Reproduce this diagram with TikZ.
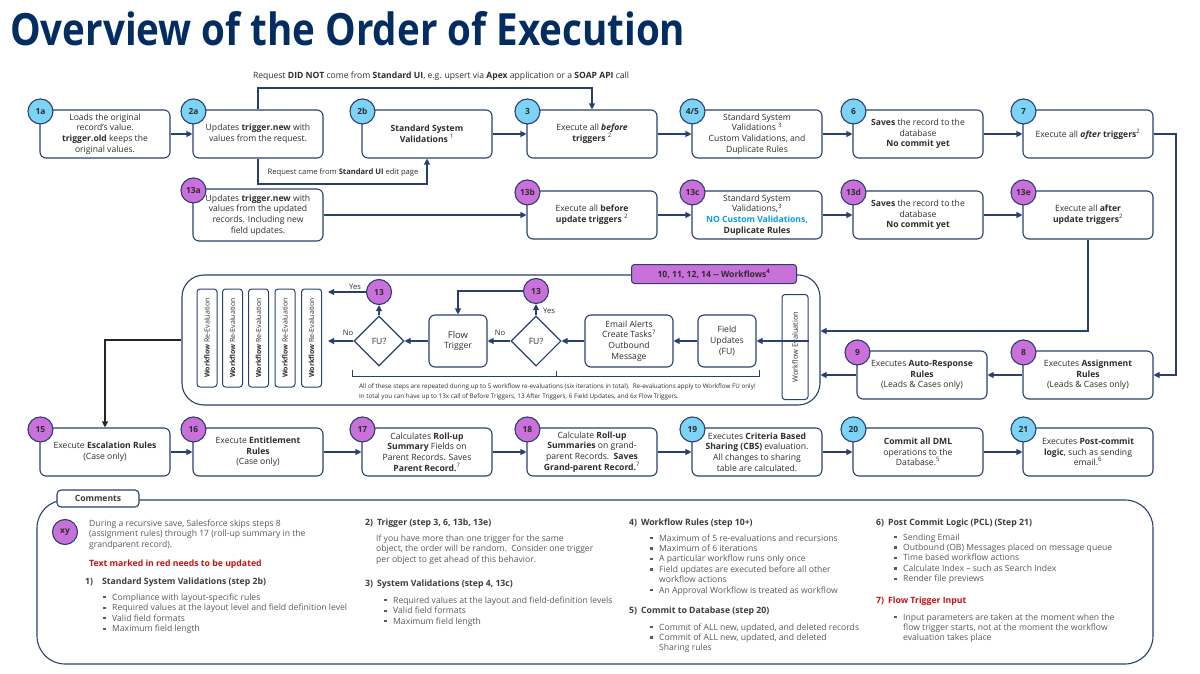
\documentclass[tikz,border=0pt]{standalone}
\usepackage{fontspec}
\setmainfont{Open Sans}
\usepackage{graphicx}
\usetikzlibrary{arrows.meta,shapes.geometric,positioning}

\definecolor{sfnavy}{RGB}{3,45,96}
\definecolor{lineblue}{RGB}{40,64,110}
\definecolor{stepblue}{RGB}{125,211,245}
\definecolor{stepviolet}{RGB}{202,112,218}
\definecolor{textdark}{RGB}{45,45,45}
\definecolor{commentgray}{RGB}{88,88,88}
\definecolor{headgray}{RGB}{60,60,60}
\definecolor{novalid}{RGB}{12,155,225}
\definecolor{todored}{RGB}{196,20,20}

\newcommand{\sqb}{\makebox[9pt][l]{\rule[1.6pt]{2.4pt}{2.4pt}}}

\begin{document}
\begin{tikzpicture}[x=1pt,y=-1pt,
    stepbox/.style={draw=lineblue, line width=1.1pt, rounded corners=6pt, fill=white,
      minimum width=130pt, minimum height=48pt, align=center, text=textdark,
      font=\fontsize{8.6}{10.6}\selectfont, inner sep=1pt},
    smallbox/.style={stepbox, minimum width=58pt, minimum height=52pt},
    bluenum/.style={circle, draw=lineblue, line width=1.1pt, fill=stepblue,
      minimum size=25pt, inner sep=0pt, text=textdark, font=\bfseries\fontsize{8.4}{8}\selectfont},
    violetnum/.style={bluenum, fill=stepviolet},
    fudiamond/.style={diamond, draw=lineblue, line width=1.1pt, fill=white, minimum width=50pt,
      minimum height=50pt, inner sep=0pt, text=textdark, font=\fontsize{8.6}{8}\selectfont},
    reevalbox/.style={draw=lineblue, line width=1pt, rounded corners=3pt, fill=white, rotate=90,
      minimum width=98pt, minimum height=20pt, inner sep=0pt, text=textdark,
      font=\fontsize{7}{7}\selectfont},
    flow/.style={draw=lineblue, line width=1.1pt, -{Triangle[length=6pt,width=6pt]}},
    flowdark/.style={flow, draw=black!85},
    lbl/.style={inner sep=0pt, text=textdark, font=\fontsize{7.6}{8}\selectfont},
    ctext/.style={anchor=base west, inner sep=0pt, text=commentgray, font=\fontsize{8.6}{9}\selectfont},
    chead/.style={ctext, text=headgray, font=\bfseries\fontsize{8.7}{9}\selectfont}]
  \newcommand{\rowa}{134}
  \newcommand{\rowb}{215}
  \newcommand{\rowc}{375}
  \newcommand{\rowd}{452}

  \useasboundingbox (0,0) rectangle (1200,674);

  % Title
  \node[anchor=base west, inner sep=0pt, text=sfnavy] (title) at (10,46)
    {\resizebox{675pt}{34pt}{\bfseries Overview of the Order of Execution}};

  % First save
  \node[stepbox] (b1a) at (105,\rowa) {Loads the original\\record’s value.\\\textbf{trigger.old} keeps the\\original values.};
  \node[stepbox] (b2a) at (258,\rowa) {Updates \textbf{trigger.new} with\\values from the request.};
  \node[stepbox] (b2b) at (427,\rowa) {\textbf{Standard System}\\\textbf{Validations} \textsuperscript{1}};
  \node[stepbox] (b3) at (592,\rowa) {Execute all \textbf{\textit{before}}\\\textbf{triggers} \textsuperscript{2}};
  \node[stepbox] (b45) at (757,\rowa) {Standard System\\Validations \textsuperscript{3}\\Custom Validations, and\\Duplicate Rules};
  \node[stepbox] (b6) at (918,\rowa) {\textbf{Saves} the record to the\\database\\\textbf{No commit yet}};
  \node[stepbox] (b7) at (1088,\rowa) {Execute all \textbf{\textit{after}} \textbf{triggers}\textsuperscript{2}};

  \node[bluenum] (n1a) at ([xshift=1pt,yshift=-2pt]b1a.north west) {1a};
  \node[bluenum] (n2a) at ([xshift=1pt,yshift=-2pt]b2a.north west) {2a};
  \node[bluenum] (n2b) at ([xshift=1pt,yshift=-2pt]b2b.north west) {2b};
  \node[bluenum] (n3) at ([xshift=1pt,yshift=-2pt]b3.north west) {3};
  \node[bluenum] (n45) at ([xshift=1pt,yshift=-2pt]b45.north west) {4/5};
  \node[bluenum] (n6) at ([xshift=1pt,yshift=-2pt]b6.north west) {6};
  \node[bluenum] (n7) at ([xshift=1pt,yshift=-2pt]b7.north west) {7};

  \draw[flow] (b1a) -- (b2a);
  \draw[flow] (b2b) -- (b3);
  \draw[flow] (b3) -- (b45);
  \draw[flow] (b45) -- (b6);
  \draw[flow] (b6) -- (b7);

  % Request paths
  \coordinate (dnt) at (258,88);
  \coordinate (std) at (258,184);
  \draw[flow] (b2a.north) -- (dnt) -| (b3.north);
  \draw[flow] (b2a.south) -- (std) -| (b2b.south);
  \node[lbl, font=\fontsize{8.6}{9}\selectfont] (lbldnt) at (441,76)
    {Request \textbf{DID NOT} come from \textbf{Standard UI}, e.g. upsert via \textbf{Apex} application or a \textbf{SOAP API} call};
  \node[lbl] (lblstd) at (343,173) {Request came from \textbf{Standard UI} edit page};

  % Recursive save
  \node[stepbox, minimum height=52pt] (b13a) at (258,\rowb) {Updates \textbf{trigger.new} with\\values from the updated\\records. Including new\\field updates.};
  \node[stepbox] (b13b) at (592,\rowb) {Execute all \textbf{before}\\\textbf{update triggers} \textsuperscript{2}};
  \node[stepbox] (b13c) at (757,\rowb) {Standard System\\Validations,\textsuperscript{3}\\\textcolor{novalid}{\textbf{NO Custom Validations,}}\\\textbf{Duplicate Rules}};
  \node[stepbox] (b13d) at (918,\rowb) {\textbf{Saves} the record to the\\database\\\textbf{No commit yet}};
  \node[stepbox] (b13e) at (1088,\rowb) {Execute all \textbf{after}\\\textbf{update triggers}\textsuperscript{2}};

  \node[violetnum] (n13a) at ([xshift=1pt,yshift=-2pt]b13a.north west) {13a};
  \node[violetnum] (n13b) at ([xshift=1pt,yshift=-2pt]b13b.north west) {13b};
  \node[violetnum] (n13c) at ([xshift=1pt,yshift=-2pt]b13c.north west) {13c};
  \node[violetnum] (n13d) at ([xshift=1pt,yshift=-2pt]b13d.north west) {13d};
  \node[violetnum] (n13e) at ([xshift=1pt,yshift=-2pt]b13e.north west) {13e};

  \draw[flow] (b13a) -- (b13b);
  \draw[flow] (b13b) -- (b13c);
  \draw[flow] (b13c) -- (b13d);
  \draw[flow] (b13d) -- (b13e);

  % Assignment and auto-response
  \node[stepbox] (b8) at (1088,\rowc) {Executes \textbf{Assignment}\\\textbf{Rules}\\(Leads \& Cases only)};
  \node[stepbox] (b9) at (922,\rowc) {Executes \textbf{Auto-Response}\\\textbf{Rules}\\(Leads \& Cases only)};
  \node[violetnum] (n8) at ([xshift=1pt,yshift=-2pt]b8.north west) {8};
  \node[violetnum] (n9) at ([xshift=1pt,yshift=-2pt]b9.north west) {9};

  % Workflow frame
  \node[draw=lineblue, line width=1.1pt, rounded corners=22pt, minimum width=638pt,
    minimum height=130pt] (wf) at (501,340) {};
  \node[draw=lineblue, line width=1pt, rounded corners=3pt, fill=stepviolet, minimum width=165pt,
    minimum height=19pt, inner sep=0pt, text=textdark, font=\bfseries\fontsize{8.6}{8}\selectfont]
    (wftab) at (714,274) {10, 11, 12, 14 -{}- Workflows\textsuperscript{4}};

  \coordinate (rturn) at (1176,\rowa);
  \draw[flow] (b7.east) -- (rturn) |- (b8.east);
  \draw[flow] (b8) -- (b9);
  \draw[flow] (b9.west) -- (b9.west -| wf.east);
  \coordinate (wfin) at (1088,331);
  \draw[flow] (b13e.south) -- (wfin) -- (wfin -| wf.east);

  % Inside the workflow frame
  \node[reevalbox, minimum width=105pt, minimum height=26pt, font=\fontsize{7.4}{8}\selectfont]
    (wfeval) at (795,347) {Workflow Evaluation};
  \node[smallbox] (fu) at (727,341) {Field\\Updates\\(FU)};
  \node[smallbox, minimum width=88pt] (email) at (629,341) {Email Alerts\\Create Tasks\textsuperscript{7}\\Outbound\\Message};
  \node[fudiamond] (fuq1) at (536,341) {FU?};
  \node[smallbox] (flowtrg) at (458,341) {\fontsize{9.4}{11.5}\selectfont Flow\\Trigger};
  \node[fudiamond] (fuq2) at (379,341) {FU?};
  \node[violetnum] (n13r) at (536,291) {13};
  \node[violetnum] (n13l) at (379,292) {13};
  \foreach \x [count=\i] in {207,232.5,258.5,285,311.5} {
    \node[reevalbox] (re\i) at (\x,338) {\textbf{Workflow} Re-Evaluation};
  }

  \draw[flow] (wfeval.south |- fu.east) -- (fu.east);
  \draw[flow] (fu) -- (email);
  \draw[flow] (email) -- (fuq1);
  \draw[flow] (fuq1) -- (flowtrg);
  \draw[flow] (flowtrg) -- (fuq2);
  \draw[flow] (fuq1.north) -- (n13r.south);
  \draw[flow] (fuq2.north) -- (n13l.south);
  \draw[flow] (n13r.west) -| (flowtrg.north);
  \coordinate (noend) at (328,341);
  \coordinate (yesend) at (328,292);
  \draw[flow] (fuq2.west) -- (noend);
  \draw[flow] (n13l.west) -- (yesend);
  \node[lbl] (yes1) at (549,311) {Yes};
  \node[lbl] (no1) at (500,333) {No};
  \node[lbl] (yes2) at (355,287) {Yes};
  \node[lbl] (no2) at (348,333) {No};

  % Bracket and note
  \draw[lineblue, line width=0.9pt] (352,370) -- (352,376) -- (759,376) -- (759,370);
  \draw[lineblue, line width=0.9pt] (556,376) -- (556,371);
  \node[anchor=base west, inner sep=0pt, text=textdark, font=\fontsize{6.3}{6}\selectfont] (note1) at (359,388)
    {All of these steps are repeated during up to 5 workflow re-evaluations (six iterations in total).\ \ Re-evaluations apply to Workflow FU only!};
  \node[anchor=base west, inner sep=0pt, text=textdark, font=\fontsize{6.3}{6}\selectfont] (note2) at (359,398)
    {In total you can have up to 13x call of Before Triggers, 13 After Triggers, 6 Field Updates, and 6x Flow Triggers.};

  % Final steps
  \node[stepbox] (b15) at (105,\rowd) {Execute \textbf{Escalation Rules}\\(Case only)};
  \node[stepbox] (b16) at (258,\rowd) {Execute \textbf{Entitlement}\\\textbf{Rules}\\(Case only)};
  \node[stepbox] (b17) at (427,\rowd) {Calculates \textbf{Roll-up}\\\textbf{Summary} Fields on\\Parent Records. Saves\\\textbf{Parent Record.}\textsuperscript{7}};
  \node[stepbox] (b18) at (592,\rowd) {Calculate \textbf{Roll-up}\\\textbf{Summaries} on grand-\\parent Records.\ \ \textbf{Saves}\\\textbf{Grand-parent Record.}\textsuperscript{7}};
  \node[stepbox] (b19) at (757,\rowd) {Executes \textbf{Criteria Based}\\\textbf{Sharing (CBS)} evaluation.\\All changes to sharing\\table are calculated.};
  \node[stepbox] (b20) at (918,\rowd) {\textbf{Commit all DML}\\operations to the\\Database.\textsuperscript{5}};
  \node[stepbox] (b21) at (1088,\rowd) {Executes \textbf{Post-commit}\\\textbf{logic}, such as sending\\email.\textsuperscript{6}};

  \node[violetnum] (n15) at ([xshift=1pt,yshift=-2pt]b15.north west) {15};
  \node[violetnum] (n16) at ([xshift=1pt,yshift=-2pt]b16.north west) {16};
  \node[violetnum] (n17) at ([xshift=1pt,yshift=-2pt]b17.north west) {17};
  \node[violetnum] (n18) at ([xshift=1pt,yshift=-2pt]b18.north west) {18};
  \node[bluenum] (n19) at ([xshift=1pt,yshift=-2pt]b19.north west) {19};
  \node[bluenum] (n20) at ([xshift=1pt,yshift=-2pt]b20.north west) {20};
  \node[bluenum] (n21) at ([xshift=1pt,yshift=-2pt]b21.north west) {21};

  \coordinate (wfout) at (105,340);
  \draw[flowdark] (wf.west) -- (wfout) -- (b15.north);
  \draw[flow] (b15) -- (b16);
  \draw[flow] (b16) -- (b17);
  \draw[flow] (b17) -- (b18);
  \draw[flow] (b18) -- (b19);
  \draw[flow] (b19) -- (b20);
  \draw[flow] (b20) -- (b21);

  % Comments
  \draw[lineblue, line width=1.1pt, rounded corners=28pt] (37,500) rectangle (1153,664);
  \node[draw=lineblue, line width=1.1pt, rounded corners=4pt, fill=white, minimum width=82pt,
    minimum height=17pt, inner sep=0pt, text=headgray, font=\bfseries\fontsize{8.6}{8}\selectfont]
    (ctab) at (98,498.5) {Comments};

  \node[violetnum] (nxy) at (65,532) {xy};
  \foreach \t [count=\i] in {{During a recursive save, Salesforce skips steps 8},
      {(assignment rules) through 17 (roll-up summary in the}, {grandparent record).}} {
    \node[ctext] (cintro\i) at (89,{526+10.6*(\i-1)}) {\t};
  }
  \node[chead, text=todored] (cred) at (89,566) {Text marked in red needs to be updated};
  \node[chead] (ch1) at (85,584) {1)\hspace{9pt}Standard System Validations (step 2b)};
  \foreach \t [count=\i] in {Compliance with layout-specific rules,
      Required values at the layout level and field definition level,
      Valid field formats, Maximum field length} {
    \node[ctext] (cb1\i) at (103,{600+10.5*(\i-1)}) {\sqb\t};
  }

  \node[chead] (ch2) at (365,525) {2)\hspace{4pt}Trigger (step 3, 6, 13b, 13e)};
  \foreach \t [count=\i] in {If you have more than one trigger for the same,
      {object, the order will be random.\ \ Consider one trigger},
      per object to get ahead of this behavior.} {
    \node[ctext] (ct2\i) at (376,{541+10.6*(\i-1)}) {\t};
  }
  \node[chead] (ch3) at (365,586) {3)\hspace{4pt}System Validations (step 4, 13c)};
  \foreach \t [count=\i] in {Required values at the layout and field-definition levels,
      Valid field formats, Maximum field length} {
    \node[ctext] (cb3\i) at (384,{603+10.5*(\i-1)}) {\sqb\t};
  }

  \node[chead] (ch4) at (629,525) {4)\hspace{4pt}Workflow Rules (step 10+)};
  \foreach \t [count=\i] in {\sqb Maximum of 5 re-evaluations and recursions,
      \sqb Maximum of 6 iterations, \sqb A particular workflow runs only once,
      \sqb Field updates are executed before all other, \hspace*{9pt}workflow actions,
      \sqb An Approval Workflow is treated as workflow} {
    \node[ctext] (cb4\i) at (650,{541+10.4*(\i-1)}) {\t};
  }
  \node[chead] (ch5) at (629,613) {5)\hspace{4pt}Commit to Database (step 20)};
  \foreach \t [count=\i] in {{\sqb Commit of ALL new, updated, and deleted records},
      {\sqb Commit of ALL new, updated, and deleted}, \hspace*{9pt}Sharing rules} {
    \node[ctext] (cb5\i) at (650,{630+10.4*(\i-1)}) {\t};
  }

  \node[chead] (ch6) at (876,525) {6)\hspace{4pt}Post Commit Logic (PCL) (Step 21)};
  \foreach \t [count=\i] in {Sending Email, Outbound (OB) Messages placed on message queue,
      Time based workflow actions, Calculate Index – such as Search Index, Render file previews} {
    \node[ctext] (cb6\i) at (894,{540+10.4*(\i-1)}) {\sqb\t};
  }
  \node[chead, text=todored] (ch7) at (876,603) {7)\hspace{4pt}Flow Trigger Input};
  \foreach \t [count=\i] in {\sqb Input parameters are taken at the moment when the,
      {\hspace*{9pt}flow trigger starts, not at the moment the workflow},
      \hspace*{9pt}evaluation takes place} {
    \node[ctext] (cb7\i) at (894,{620+10.4*(\i-1)}) {\t};
  }
\end{tikzpicture}
\end{document}
